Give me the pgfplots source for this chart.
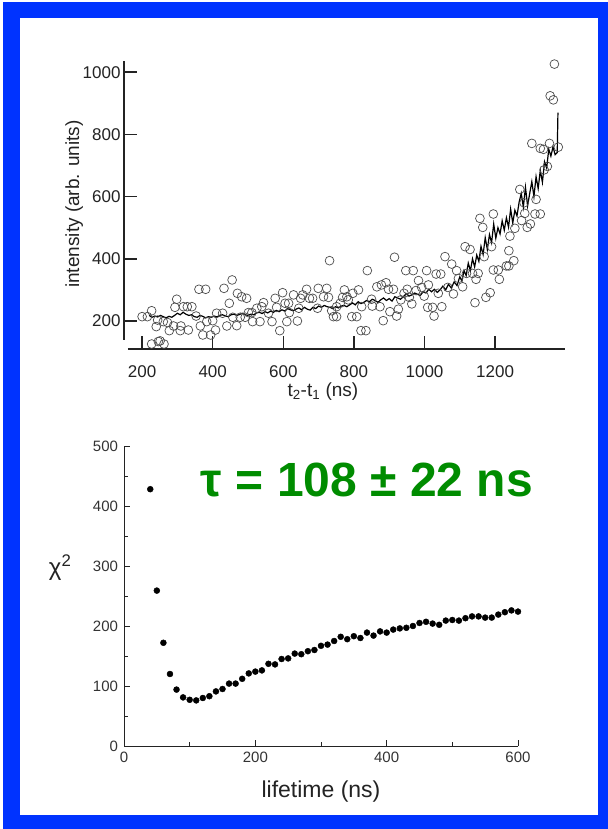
\documentclass[border=0pt]{standalone}
\usepackage{pgfplots}
\pgfplotsset{compat=1.18}
\usepackage{fontspec}
\setmainfont{Liberation Sans}
\definecolor{frameblue}{RGB}{0,51,255}
\definecolor{taugreen}{RGB}{0,140,0}
\definecolor{axgray}{RGB}{35,35,35}
\begin{document}
\begin{tikzpicture}
\useasboundingbox (0,0) rectangle (608bp,829bp);
\fill[white] (0,0) rectangle (608bp,829bp);
\fill[frameblue] (3bp,0) rectangle (608bp,827bp);
\fill[white] (20bp,14bp) rectangle (598bp,811bp);

% ---------------- top plot ----------------
\begin{axis}[
  scale only axis, width=441bp, height=288bp,
  at={(124bp,480bp)}, anchor=south west,
  xmin=148.7, xmax=1398, ymin=110, ymax=1036,
  axis lines=left, axis line style={draw=none,-},
  tick align=inside, major tick length=13bp,
  tick style={line width=1.4bp, color=axgray},
  xtick={200,400,...,1200}, ytick={200,400,...,1000},
  minor tick num=0,
  tick label style={font=\fontsize{17bp}{20bp}\selectfont, color=axgray},
  /pgf/number format/assume math mode=true,
  /pgf/number format/1000 sep={},
  xticklabel style={yshift=-13bp},
  xlabel={t\textsubscript{2}-t\textsubscript{1} (ns)},
  ylabel={intensity (arb. units)},
  label style={font=\fontsize{19bp}{22bp}\selectfont, color=axgray},
  xlabel style={at={(rel axis cs:0.451,-0.148)}, anchor=center},
  ylabel style={at={(rel axis cs:-0.113,0.503)}, anchor=center},
  clip=false,
]
\draw[line width=1.5bp, axgray] (rel axis cs:0,0.0313) -- (rel axis cs:0,1);
\draw[line width=2bp, axgray] (rel axis cs:0.00907,0) -- (rel axis cs:1,0);
\addplot[only marks, mark=o, mark size=4.4bp, mark options={line width=0.7bp, draw=black!70}] table {
x y
200 214
215 214
227 233
227 126
240 182
244 203
246 134
251 136
262 126
260 198
272 195
277 169
289 184
293 244
298 270
308 169
310 184
317 246
328 246
331 171
341 246
353 216
361 302
365 184
372 155
380 302
383 198
394 155
400 201
408 171
411 225
428 225
432 305
440 184
447 257
455 332
457 212
468 185
470 289
482 278
496 273
478 212
492 212
501 227
511 227
513 198
525 241
534 198
539 246
544 259
558 225
568 198
577 273
581 244
590 169
598 291
605 257
610 198
615 257
617 227
629 284
640 200
644 241
649 273
655 284
666 302
674 273
683 273
697 241
699 305
714 278
723 305
731 394
728 276
737 233
742 214
751 214
751 246
761 257
768 276
773 300
780 278
784 268
794 214
797 289
808 214
813 300
822 246
820 169
834 169
838 362
850 270
852 248
865 310
874 246
878 316
883 201
891 323
898 302
902 230
912 302
915 405
921 216
926 238
933 268
942 289
947 362
951 302
957 276
964 255
968 362
976 298
983 330
992 308
999 280
1006 362
1009 244
1011 316
1023 244
1027 216
1033 351
1039 289
1046 351
1049 246
1058 407
1066 308
1077 383
1082 287
1091 362
1096 337
1108 310
1115 439
1119 353
1129 430
1136 353
1143 259
1146 334
1152 353
1157 530
1165 501
1169 407
1174 276
1186 291
1190 439
1195 364
1195 544
1209 364
1212 334
1232 377
1239 377
1242 473
1239 426
1253 394
1256 498
1270 623
1275 523
1282 580
1284 546
1291 501
1300 512
1304 771
1313 544
1316 591
1328 755
1328 544
1337 752
1339 686
1348 697
1354 771
1356 924
1365 911
1368 1026
1379 759
};
\addplot[black, line width=1.2bp, mark=none] table {
x y
220 218
228 212
236 216
244 213
252 218
260 214
268 210
276 215
284 212
292 218
300 225
308 220
316 228
324 222
332 218
340 220
348 214
356 212
364 218
372 215
380 210
388 214
396 212
404 216
412 213
420 218
428 220
436 216
444 214
452 220
460 222
468 218
476 221
484 225
492 220
500 218
508 222
516 220
524 226
532 228
540 224
548 230
556 226
564 232
572 228
580 234
588 230
596 236
604 232
612 240
620 236
628 233
636 238
644 242
652 236
660 244
668 238
676 235
684 244
692 240
700 248
708 244
716 250
724 246
732 244
740 240
748 246
756 242
764 248
772 250
780 246
788 252
796 258
804 252
812 262
820 256
828 260
836 266
844 262
852 270
860 266
868 260
876 268
884 274
892 266
900 272
908 264
916 278
924 274
932 270
940 278
948 288
956 280
964 284
972 290
980 286
988 282
996 294
1004 290
1012 302
1020 294
1028 302
1036 292
1044 300
1052 312
1060 300
1068 318
1076 306
1084 326
1092 314
1100 342
1106 328
1112 362
1118 346
1124 386
1130 362
1136 400
1142 374
1148 412
1154 392
1160 440
1166 414
1172 468
1178 430
1184 478
1190 452
1196 512
1202 466
1208 500
1214 480
1220 522
1226 492
1232 532
1238 502
1244 560
1250 515
1256 556
1262 538
1268 582
1274 610
1280 566
1286 630
1292 570
1298 610
1304 648
1310 600
1316 664
1322 626
1328 684
1334 646
1340 712
1346 692
1352 752
1358 730
1364 760
1370 735
1376 742
1378 870
};
\end{axis}

% ---------------- bottom plot ----------------
\begin{axis}[
  scale only axis, width=394bp, height=300bp,
  at={(124bp,83bp)}, anchor=south west,
  xmin=0, xmax=600, ymin=0, ymax=500,
  axis lines=left, axis line style={-, line width=0.9bp, color=axgray},
  tick align=inside, major tick length=6bp, minor tick length=4bp,
  xtick={0,200,400,600}, minor xtick={100,300,500},
  ytick={0,100,...,500}, minor ytick={50,150,...,450},
  tick style={line width=0.8bp, color=axgray},
  tick label style={font=\fontsize{15bp}{18bp}\selectfont, color=black!80},
  /pgf/number format/assume math mode=true,
  xticklabel style={yshift=-3bp},
  yticklabel style={xshift=-2.5bp},
  xlabel={lifetime (ns)},
  ylabel={χ\textsuperscript{2}},
  label style={color=axgray},
  xlabel style={font=\fontsize{23bp}{26bp}\selectfont, at={(rel axis cs:0.5,-0.153)}, anchor=center},
  ylabel style={font=\fontsize{24bp}{27bp}\selectfont, rotate=-90, at={(rel axis cs:-0.162,0.593)}, anchor=center},
  clip=false,
]
\node[anchor=base, font=\fontsize{48bp}{50bp}\selectfont\bfseries, text=taugreen] at (axis cs:370,415) {τ = 108 ± 22 ns};
\addplot[only marks, mark=*, mark size=3bp, black] table {
x y
40 428
50 259
60 172
70 120
80 94
90 81
100 77
110 76
120 80
130 83
140 91
150 95
160 104
170 104
180 112
190 121
200 124
210 126
220 137
230 136
240 145
250 146
260 154
270 153
280 158
290 160
300 167
310 169
320 175
330 182
340 178
350 183
360 180
370 189
380 184
390 191
400 189
410 194
420 196
430 197
440 200
450 205
460 207
470 204
480 202
490 209
500 210
510 209
520 213
530 216
540 216
550 214
560 214
570 219
580 223
590 226
600 224
};
\end{axis}
\end{tikzpicture}
\end{document}
